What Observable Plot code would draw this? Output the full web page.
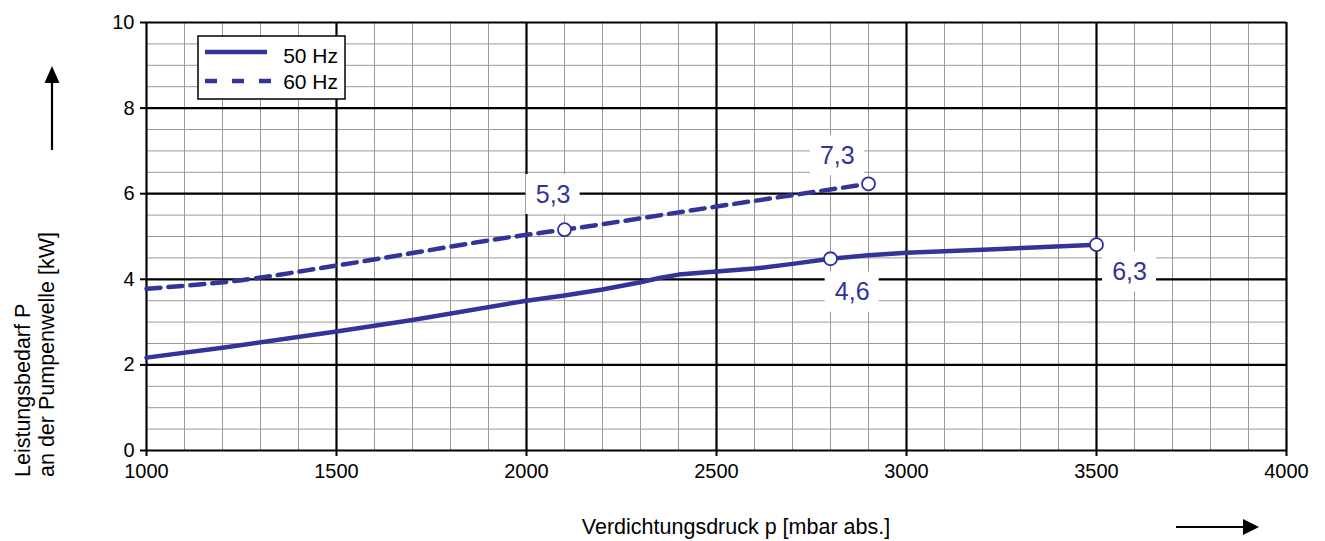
<!DOCTYPE html>
<html>
<head>
<meta charset="utf-8">
<script src="https://cdn.jsdelivr.net/npm/d3@7"></script>
<script src="https://cdn.jsdelivr.net/npm/@observablehq/plot@0.6"></script>
<style>
  html, body { margin: 0; padding: 0; background: #fff; }
  #chart { position: relative; width: 1325px; height: 541px; }
</style>
</head>
<body>
<div id="chart"></div>
<script>
// ---- data ----
const pressure50 = [1000, 1200, 1500, 1700, 2000, 2100, 2200, 2300, 2350, 2400, 2500, 2600, 2700, 2800, 2900, 3000, 3200, 3500];
const power50    = [2.17, 2.40, 2.78, 3.05, 3.50, 3.62, 3.76, 3.93, 4.03, 4.11, 4.18, 4.25, 4.36, 4.48, 4.56, 4.62, 4.69, 4.81];
const pressure60 = [1000, 1250, 1500, 2000, 2100, 2500, 2900];
const power60    = [3.78, 3.98, 4.32, 5.04, 5.16, 5.70, 6.23];

const markerPressure = [2100, 2900, 2800, 3500];
const markerPower    = [5.16, 6.23, 4.48, 4.81];

const labelText     = ["5,3", "7,3", "4,6", "6,3"];
const labelPressure = [2070, 2818, 2857, 3587];
const labelPower    = [5.98, 6.89, 3.70, 4.17];

const xMajorTicks = [1000, 1500, 2000, 2500, 3000, 3500, 4000];
const yMajorTicks = [0, 2, 4, 6, 8, 10];
const xMinor = d3.range(1000, 4001, 100);
const yMinor = d3.range(0, 10.001, 0.5);

const seriesNames = ["50 Hz", "60 Hz"];
const xTitle = "Verdichtungsdruck p [mbar abs.]";
const yTitle = ["Leistungsbedarf P", "an der Pumpenwelle [kW]"];

// ---- tables ----
const s50 = pressure50.map((p, i) => ({p, v: power50[i]}));
const s60 = pressure60.map((p, i) => ({p, v: power60[i]}));
const markers = markerPressure.map((p, i) => ({p, v: markerPower[i]}));
const labels = labelText.map((t, i) => ({t, p: labelPressure[i], v: labelPower[i]}));

const blue = "#333399";
const font = "'Liberation Sans', Arial, sans-serif";

const chart = Plot.plot({
  width: 1325,
  height: 541,
  marginLeft: 146,
  marginRight: 39,
  marginTop: 22,
  marginBottom: 91,
  style: {fontFamily: font, fontSize: "20px", color: "#000", background: "#fff"},
  x: {domain: [1000, 4000], ticks: xMajorTicks, label: null},
  y: {domain: [0, 10], ticks: yMajorTicks, label: null},
  marks: [
    Plot.ruleX(xMinor, {stroke: "#999", strokeWidth: 1}),
    Plot.ruleY(yMinor, {stroke: "#999", strokeWidth: 1}),
    Plot.ruleX(xMajorTicks, {stroke: "#000", strokeWidth: 2.2}),
    Plot.ruleY(yMajorTicks, {stroke: "#000", strokeWidth: 2.2}),
    Plot.axisX({ticks: xMajorTicks, tickSize: 6, tickPadding: 7, stroke: "#000", strokeWidth: 2, fontSize: 20, tickFormat: d => String(d), label: null}),
    Plot.axisY({ticks: yMajorTicks, tickSize: 6, tickPadding: 6, stroke: "#000", strokeWidth: 2, fontSize: 20, tickFormat: d => String(d), label: null}),
    Plot.line(s60, {x: "p", y: "v", stroke: blue, strokeWidth: 4.5, strokeDasharray: "14,8", curve: "monotone-x"}),
    Plot.line(s50, {x: "p", y: "v", stroke: blue, strokeWidth: 4.5, curve: "linear", strokeLinejoin: "round"}),
    Plot.rect(labels, {x1: "p", x2: "p", y1: "v", y2: "v", insetLeft: -27, insetRight: -27, insetTop: -20, insetBottom: -20, fill: "#fff"}),
    Plot.text(labels, {x: "p", y: "v", text: "t", fill: blue, fontSize: 25, textAnchor: "middle", lineAnchor: "middle"}),
    Plot.dot(markers, {x: "p", y: "v", r: 6.5, fill: "#fff", stroke: blue, strokeWidth: 1.8})
  ]
});

const svg = d3.select(chart);

// legend
const lg = svg.append("g");
lg.append("rect").attr("x", 198).attr("y", 36).attr("width", 147).attr("height", 63)
  .attr("fill", "#fff").attr("stroke", "#000").attr("stroke-width", 1.5);
lg.append("line").attr("x1", 205).attr("x2", 267).attr("y1", 52).attr("y2", 52)
  .attr("stroke", blue).attr("stroke-width", 4.5);
lg.append("line").attr("x1", 205).attr("x2", 277).attr("y1", 81).attr("y2", 81)
  .attr("stroke", blue).attr("stroke-width", 4.5).attr("stroke-dasharray", "12,15");
lg.append("text").attr("x", 338).attr("y", 56).attr("dy", "0.35em").attr("text-anchor", "end")
  .attr("font-size", 21).attr("fill", "#000").text(seriesNames[0]);
lg.append("text").attr("x", 338).attr("y", 82).attr("dy", "0.35em").attr("text-anchor", "end")
  .attr("font-size", 21).attr("fill", "#000").text(seriesNames[1]);

// y title (two rotated lines)
yTitle.forEach((t, i) => {
  svg.append("text")
    .attr("transform", `translate(${22 + i * 24},477) rotate(-90)`)
    .attr("dy", "0.35em").attr("text-anchor", "start")
    .attr("font-size", 21.5).attr("fill", "#000").text(t);
});
// up arrow
svg.append("line").attr("x1", 52).attr("x2", 52).attr("y1", 150).attr("y2", 80)
  .attr("stroke", "#000").attr("stroke-width", 2.2);
svg.append("path").attr("d", "M52,66 L44.5,83 L59.5,83 Z").attr("fill", "#000");

// x title
svg.append("text").attr("x", 736).attr("y", 526).attr("dy", "0.35em").attr("text-anchor", "middle")
  .attr("font-size", 21.5).attr("fill", "#000").text(xTitle);
// right arrow
svg.append("line").attr("x1", 1176).attr("x2", 1246).attr("y1", 527).attr("y2", 527)
  .attr("stroke", "#000").attr("stroke-width", 2.2);
svg.append("path").attr("d", "M1259,527 L1243,519 L1243,535 Z").attr("fill", "#000");

document.getElementById("chart").appendChild(chart);
</script>
</body>
</html>
